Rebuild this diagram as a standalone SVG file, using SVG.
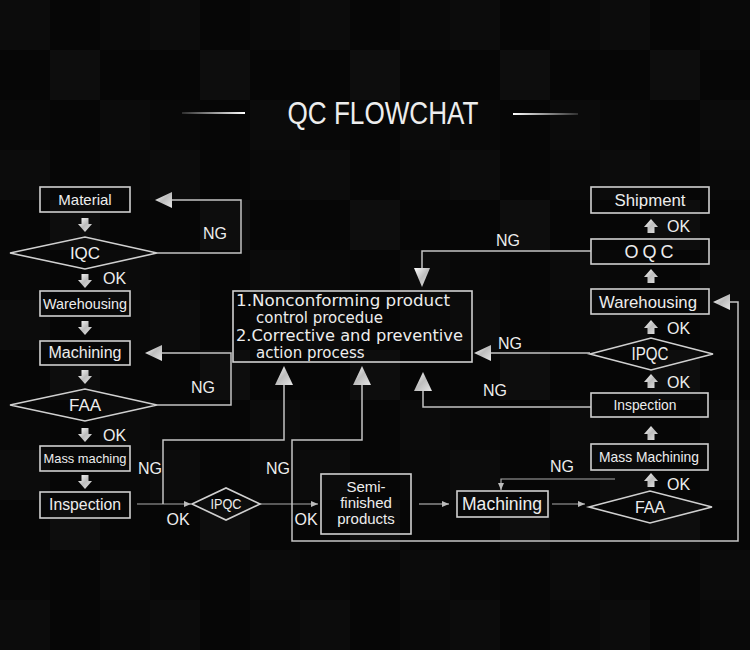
<svg xmlns="http://www.w3.org/2000/svg" width="750" height="650" viewBox="0 0 750 650">
<defs>
<pattern id="carbon" x="0" y="0" width="150" height="150" patternUnits="userSpaceOnUse">
<rect width="150" height="150" fill="#060606"/>
<rect x="0" y="0" width="50" height="50" fill="#0c0c0c"/>
<rect x="100" y="0" width="50" height="50" fill="#090909"/>
<rect x="50" y="50" width="50" height="50" fill="#0d0d0d"/>
<rect x="0" y="100" width="50" height="50" fill="#080808"/>
<rect x="100" y="100" width="50" height="50" fill="#0b0b0b"/>
</pattern>
<linearGradient id="metal" x1="0" y1="0" x2="1" y2="1">
<stop offset="0" stop-color="#ffffff"/>
<stop offset="0.5" stop-color="#bdbdbd"/>
<stop offset="1" stop-color="#e6e6e6"/>
</linearGradient>
<linearGradient id="lineL" x1="0" y1="0" x2="1" y2="0">
<stop offset="0" stop-color="#fff" stop-opacity="0.15"/>
<stop offset="1" stop-color="#fff" stop-opacity="1"/>
</linearGradient>
<linearGradient id="lineR" x1="0" y1="0" x2="1" y2="0">
<stop offset="0" stop-color="#fff" stop-opacity="1"/>
<stop offset="1" stop-color="#fff" stop-opacity="0.15"/>
</linearGradient>
<marker id="sm" markerWidth="8" markerHeight="8" refX="7" refY="4" orient="auto" markerUnits="userSpaceOnUse">
<path d="M0,1 L7,4 L0,7 Z" fill="#bbbbbb"/>
</marker>
<path id="dn" d="M-3.5,0 H3.5 V6 H7 L0,14 L-7,6 H-3.5 Z"/>
<path id="up" d="M0,0 L7,8 H3.5 V14 H-3.5 V8 H-7 Z"/>
<path id="triL" d="M0,0 L17,-8 L17,8 Z"/>
<path id="triU" d="M0,0 L9,19 L-9,19 Z"/>
<path id="triD" d="M0,0 L-8,-19 L8,-19 Z"/>
<style>
.box{fill:none;stroke:#d0d0d0;stroke-width:1.6}
.dia{fill:none;stroke:#d0d0d0;stroke-width:1.6}
.t{font-family:"Liberation Sans",Arial,sans-serif;fill:#ededed;text-anchor:middle}
.l{font-family:"Liberation Sans",Arial,sans-serif;fill:#ededed}
.c{font-family:"DejaVu Sans",Verdana,sans-serif;fill:#ededed}
.ln{fill:none;stroke:#c4c4c4;stroke-width:1.5}
.thin{fill:none;stroke:#aaaaaa;stroke-width:1.2}
.ah{fill:url(#metal)}
</style>
</defs>
<rect width="750" height="650" fill="url(#carbon)"/>

<g id="title">
<rect x="182" y="112" width="63" height="2" fill="url(#lineL)"/>
<rect x="513" y="113" width="65" height="2" fill="url(#lineR)"/>
<text x="383" y="124" class="t" font-size="31" textLength="191" lengthAdjust="spacingAndGlyphs">QC FLOWCHAT</text>
</g>

<g id="connectors" font-size="15">
<path class="ln" d="M157,253 H241 V200 H171"/>
<use href="#triL" x="155" y="200" class="ah"/>
<path class="ln" d="M157,405 H231 V353 H161"/>
<use href="#triL" x="145" y="353" class="ah"/>
<path class="thin" d="M137,504 H191" marker-end="url(#sm)"/>
<path class="ln" d="M163,504 V440 H284 V384"/>
<use href="#triU" x="284" y="366" class="ah"/>
<path class="thin" d="M260,504 H318" marker-end="url(#sm)"/>
<path class="ln" d="M362,384 V440 H292 V541 H738 V302 H730"/>
<use href="#triU" x="362" y="366" class="ah"/>
<use href="#triL" x="713" y="302" class="ah"/>
<path class="thin" d="M419,504 H449" marker-end="url(#sm)"/>
<path class="thin" d="M552,504 H585" marker-end="url(#sm)"/>
<path class="thin" d="M615,479 H501 V490" marker-end="url(#sm)"/>
<path class="ln" d="M591,407 H423 V390"/>
<use href="#triU" x="423" y="372" class="ah"/>
<path class="ln" d="M590,353 H490"/>
<use href="#triL" x="474" y="353" class="ah"/>
<path class="ln" d="M591,251 H422 V268"/>
<use href="#triD" x="422" y="287" class="ah"/>
<use href="#dn" x="85" y="218" class="ah"/>
<use href="#dn" x="85" y="274" class="ah"/>
<use href="#dn" x="85" y="321" class="ah"/>
<use href="#dn" x="85" y="370" class="ah"/>
<use href="#dn" x="85" y="428" class="ah"/>
<use href="#dn" x="85" y="475" class="ah"/>
<use href="#up" x="651" y="219" class="ah"/>
<use href="#up" x="651" y="269" class="ah"/>
<use href="#up" x="651" y="320" class="ah"/>
<use href="#up" x="651" y="374" class="ah"/>
<use href="#up" x="651" y="426" class="ah"/>
<use href="#up" x="651" y="473" class="ah"/>
<text x="215" y="239" class="t" font-size="16">NG</text>
<text x="203" y="393" class="t" font-size="16">NG</text>
<text x="150" y="474" class="t" font-size="16">NG</text>
<text x="278" y="474" class="t" font-size="16">NG</text>
<text x="508" y="246" class="t" font-size="16">NG</text>
<text x="510" y="349" class="t" font-size="16">NG</text>
<text x="495" y="396" class="t" font-size="16">NG</text>
<text x="562" y="472" class="t" font-size="16">NG</text>
<text x="103" y="284" class="l" font-size="16">OK</text>
<text x="103" y="441" class="l" font-size="16">OK</text>
<text x="178" y="525" class="t" font-size="16">OK</text>
<text x="306" y="525" class="t" font-size="16">OK</text>
<text x="667" y="232" class="l" font-size="16">OK</text>
<text x="667" y="334" class="l" font-size="16">OK</text>
<text x="667" y="388" class="l" font-size="16">OK</text>
<text x="667" y="490" class="l" font-size="16">OK</text>
</g>

<g id="material"><rect class="box" x="40" y="187" width="90" height="25"/><text x="85" y="205" class="t" font-size="15">Material</text></g>
<g id="iqc"><polygon class="dia" points="10,253 85,237 157,253 85,269"/><text x="85" y="259" class="t" font-size="17">IQC</text></g>
<g id="warehousing-l"><rect class="box" x="40" y="291" width="90" height="25"/><text x="85" y="309" class="t" font-size="15" textLength="84" lengthAdjust="spacingAndGlyphs">Warehousing</text></g>
<g id="machining-l"><rect class="box" x="40" y="341" width="90" height="24"/><text x="85" y="358" class="t" font-size="16" textLength="73" lengthAdjust="spacingAndGlyphs">Machining</text></g>
<g id="faa-l"><polygon class="dia" points="10,405 85,389 157,405 85,421"/><text x="85" y="411" class="t" font-size="17">FAA</text></g>
<g id="mass-l"><rect class="box" x="40" y="446" width="90" height="25"/><text x="85" y="463" class="t" font-size="13" textLength="83" lengthAdjust="spacingAndGlyphs">Mass maching</text></g>
<g id="inspection-l"><rect class="box" x="40" y="492" width="90" height="26"/><text x="85" y="510" class="t" font-size="16" textLength="72" lengthAdjust="spacingAndGlyphs">Inspection</text></g>
<g id="ipqc-l"><polygon class="dia" points="192,504 226,488 260,504 226,520"/><text x="226" y="509" class="t" font-size="15" textLength="31" lengthAdjust="spacingAndGlyphs">IPQC</text></g>
<g id="semi"><rect class="box" x="321" y="474" width="90" height="60"/><text x="366" y="492" class="t" font-size="15">Semi-</text><text x="366" y="508" class="t" font-size="15">finished</text><text x="366" y="524" class="t" font-size="15">products</text></g>
<g id="machining-r"><rect class="box" x="457" y="491" width="91" height="26"/><text x="502" y="510" class="t" font-size="18" textLength="80" lengthAdjust="spacingAndGlyphs">Machining</text></g>
<g id="faa-r"><polygon class="dia" points="589,507 650,491 712,507 650,523"/><text x="650" y="513" class="t" font-size="16">FAA</text></g>
<g id="mass-r"><rect class="box" x="591" y="444" width="117" height="26"/><text x="649" y="462" class="t" font-size="15" textLength="100" lengthAdjust="spacingAndGlyphs">Mass Machining</text></g>
<g id="inspection-r"><rect class="box" x="591" y="393" width="117" height="24"/><text x="645" y="410" class="t" font-size="15" textLength="63" lengthAdjust="spacingAndGlyphs">Inspection</text></g>
<g id="ipqc-r"><polygon class="dia" points="590,354 651,338 713,354 651,370"/><text x="650" y="360" class="t" font-size="18" textLength="37" lengthAdjust="spacingAndGlyphs">IPQC</text></g>
<g id="warehousing-r"><rect class="box" x="591" y="289" width="118" height="25"/><text x="648" y="308" class="t" font-size="17" textLength="98" lengthAdjust="spacingAndGlyphs">Warehousing</text></g>
<g id="oqc"><rect class="box" x="591" y="239" width="118" height="25"/><text x="649" y="258" class="t" font-size="18" textLength="49" lengthAdjust="spacing">OQC</text></g>
<g id="shipment"><rect class="box" x="591" y="187" width="118" height="26"/><text x="650" y="206" class="t" font-size="16" textLength="71" lengthAdjust="spacingAndGlyphs">Shipment</text></g>
<g id="action-box"><rect class="box" x="233" y="291" width="239" height="71"/>
<text x="236" y="306" class="c" font-size="15" textLength="214" lengthAdjust="spacingAndGlyphs">1.Nonconforming product</text>
<text x="256" y="323" class="c" font-size="15">control procedue</text>
<text x="236" y="341" class="c" font-size="15" textLength="227" lengthAdjust="spacingAndGlyphs">2.Corrective and preventive</text>
<text x="256" y="358" class="c" font-size="15">action process</text>
</g>
</svg>
